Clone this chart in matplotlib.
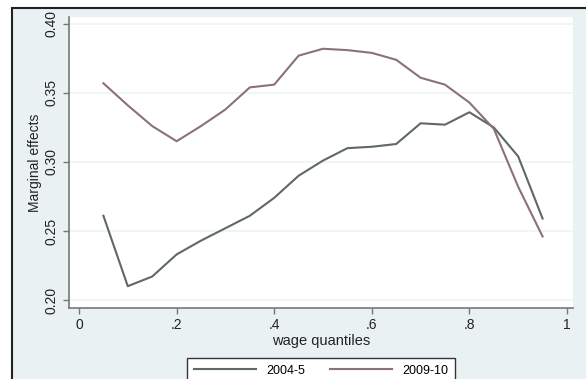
import matplotlib
matplotlib.use("Agg")
import matplotlib.pyplot as plt
from matplotlib.patches import Rectangle
from matplotlib.lines import Line2D

quantiles = [0.05, 0.10, 0.15, 0.20, 0.25, 0.30, 0.35, 0.40, 0.45, 0.50,
             0.55, 0.60, 0.65, 0.70, 0.75, 0.80, 0.85, 0.90, 0.95]
me_2004 = [0.261, 0.210, 0.217, 0.233, 0.243, 0.252, 0.261, 0.274, 0.290, 0.301,
           0.310, 0.311, 0.313, 0.328, 0.327, 0.336, 0.325, 0.304, 0.259]
me_2009 = [0.357, 0.341, 0.326, 0.315, 0.326, 0.338, 0.354, 0.356, 0.377, 0.382,
           0.381, 0.379, 0.374, 0.361, 0.356, 0.343, 0.324, 0.282, 0.246]
series_labels = ["2004-5", "2009-10"]
xticks = [0, 0.2, 0.4, 0.6, 0.8, 1.0]
xtick_labels = ["0", ".2", ".4", ".6", ".8", "1"]
yticks = [0.20, 0.25, 0.30, 0.35, 0.40]
ytick_labels = ["0.20", "0.25", "0.30", "0.35", "0.40"]

W, H = 586, 379
plt.rcParams['font.family'] = ['Liberation Sans', 'DejaVu Sans']
fig = plt.figure(figsize=(W / 100, H / 100), dpi=100)
fig.patch.set_facecolor('white')

# outer page background with black frame (cropped at right/bottom)
bg = '#eaf1f3'
frame = Rectangle((12 / W, -0.05), 1.2, 1 - 8 / H + 0.05,
                  transform=fig.transFigure, facecolor=bg,
                  edgecolor='#222222', linewidth=1.5, zorder=-10)
fig.add_artist(frame)

ax = fig.add_axes([69 / W, 1 - 308 / H, (573 - 69) / W, (308 - 17) / H])
ax.set_zorder(5)
ax.set_facecolor('white')
c2004 = '#5f6868'
c2009 = '#8a7277'
ax.plot(quantiles, me_2004, color=c2004, lw=1.5, label=series_labels[0], zorder=3)
ax.plot(quantiles, me_2009, color=c2009, lw=1.5, label=series_labels[1], zorder=3)

ax.set_xlim(-0.0205, 1.0123)
ax.set_ylim(0.1942, 0.405)
ax.set_xticks(xticks)
ax.set_xticklabels(xtick_labels, fontsize=10, color='#222222')
ax.set_yticks(yticks)
ax.set_yticklabels(ytick_labels, fontsize=10, rotation=90, va='center', color='#222222')
for t in yticks:
    ax.axhline(t, color='#eef3f4', lw=1.2, zorder=1)
for s in ['top', 'right']:
    ax.spines[s].set_visible(False)
for s in ['left', 'bottom']:
    ax.spines[s].set_color('#777777')
    ax.spines[s].set_linewidth(1.2)
ax.tick_params(axis='both', colors='#777777', labelcolor='#222222', length=4, width=1)
ax.set_xlabel('wage quantiles', fontsize=10.5, color='#222222', labelpad=1)
ax.set_ylabel('Marginal effects', fontsize=10, color='#222222', labelpad=2)

handles = [Line2D([], [], color=c2004, lw=1.5), Line2D([], [], color=c2009, lw=1.5)]
leg = fig.legend(handles, series_labels, loc='upper center', ncol=2,
                 bbox_to_anchor=(321 / W, 1 - 352 / H), fontsize=9,
                 frameon=True, fancybox=False, framealpha=1, handlelength=5.0,
                 columnspacing=2.0, borderpad=0.5, handletextpad=0.8)
leg.get_frame().set_edgecolor('#333333')
leg.get_frame().set_linewidth(1.0)
leg.get_frame().set_facecolor('white')
leg.set_zorder(6)

fig.savefig('out.png', dpi=100, facecolor=fig.get_facecolor())
